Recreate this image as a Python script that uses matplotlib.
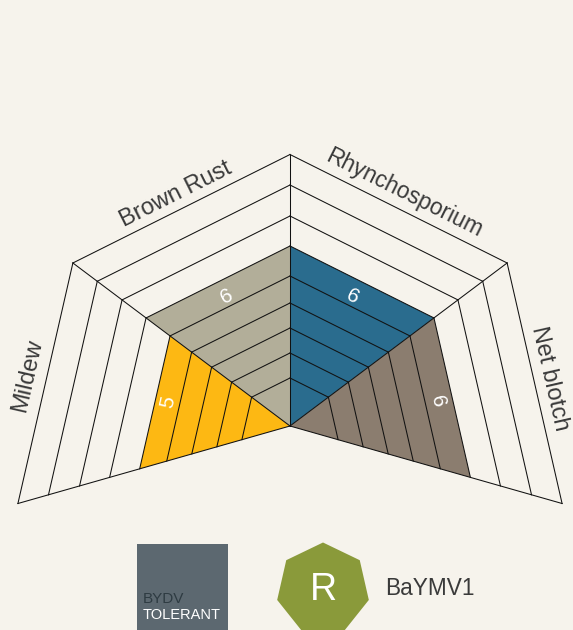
import numpy as np
import matplotlib
matplotlib.use("Agg")
import matplotlib.pyplot as plt
from matplotlib.patches import Polygon, Rectangle, RegularPolygon

categories = ["Mildew", "Brown Rust", "Rhynchosporium", "Net blotch"]
scores = [5, 6, 6, 6]
levels = [1, 2, 3, 4, 5, 6, 7, 8, 9]
fill_colors = ["#FDB813", "#B2AE99", "#2A6C8E", "#8B7D6F"]

tolerance_lines = ["BYDV", "TOLERANT"]
resistance_mark = "R"
resistance_name = "BaYMV1"

# the scale is not linear on the original, radius of each level in px
level_radius = [48, 73, 98, 123, 150, 180, 210, 241, 271.5]
spoke_angle = [195.9, 143.1, 90, 36.9, -15.9]
spoke_scale = [1.042, 1, 1, 1, 1.042]

# small hand nudges for the text, in px
name_nudge = [(-3, -4), (1, -1), (-1, -2), (0, -1)]
score_nudge = [(-1, -4), (2, 2), (-3, 2), (0, 1)]
name_size = [17, 17, 16.5, 17]

bg = "#F6F3EC"
cx, cy = 290, 426
plt.rcParams["font.family"] = ["Liberation Sans", "DejaVu Sans"]


def spoke_point(spoke, level):
    r = level_radius[level - 1] * spoke_scale[spoke]
    a = np.radians(spoke_angle[spoke])
    return cx + r * np.cos(a), cy - r * np.sin(a)


def edge_angle(p, q):
    ang = np.degrees(np.arctan2(-(q[1] - p[1]), q[0] - p[0]))
    if ang > 90:
        ang -= 180
    if ang < -90:
        ang += 180
    return ang


def edge_normal(p, q):
    # unit normal of the edge, pointing to the centre
    ex, ey = q[0] - p[0], q[1] - p[1]
    n = np.array([-ey, ex]) / np.hypot(ex, ey)
    if n[0] * (cx - (p[0] + q[0]) / 2) + n[1] * (cy - (p[1] + q[1]) / 2) < 0:
        n = -n
    return n


fig = plt.figure(figsize=(5.73, 6.30), dpi=100, facecolor=bg)
ax = fig.add_axes([0, 0, 1, 1])
ax.set_xlim(0, 573)
ax.set_ylim(630, 0)
ax.axis("off")

# filled sectors
for i, v in enumerate(scores):
    ax.add_patch(Polygon([(cx, cy), spoke_point(i, v), spoke_point(i + 1, v)],
                         closed=True, fc=fill_colors[i], ec="none", zorder=1))

# rings, one segment per sector
for i in range(len(categories)):
    for lev in levels:
        p, q = spoke_point(i, lev), spoke_point(i + 1, lev)
        ax.plot([p[0], q[0]], [p[1], q[1]], color="#111111", lw=0.75, zorder=2)

# spokes
for i in range(len(spoke_angle)):
    p = spoke_point(i, levels[-1])
    ax.plot([cx, p[0]], [cy, p[1]], color="#111111", lw=0.75, zorder=2)

# score numbers + category names follow the sector's outer edge
for i, name in enumerate(categories):
    p, q = spoke_point(i, scores[i]), spoke_point(i + 1, scores[i])
    n = edge_normal(p, q)
    ax.text((p[0] + q[0]) / 2 + n[0] * 14.5 + score_nudge[i][0],
            (p[1] + q[1]) / 2 + n[1] * 14.5 + score_nudge[i][1], str(scores[i]),
            color="white", fontsize=15, rotation=edge_angle(p, q), rotation_mode="anchor",
            ha="center", va="center", zorder=3)

    # name sits outside of the outermost ring
    p9, q9 = spoke_point(i, levels[-1]), spoke_point(i + 1, levels[-1])
    n9 = edge_normal(p9, q9)
    ax.text((p9[0] + q9[0]) / 2 - n9[0] * 15 + name_nudge[i][0],
            (p9[1] + q9[1]) / 2 - n9[1] * 15 + name_nudge[i][1], name,
            color="#3A3A3A", fontsize=name_size[i], rotation=edge_angle(p9, q9), rotation_mode="anchor",
            ha="center", va="center", zorder=3)

# bottom badges
ax.add_patch(Rectangle((137, 544), 91, 86, fc="#5C6870", ec="none"))
ax.text(143, 603, tolerance_lines[0], color="#2E3B42", fontsize=11, ha="left", va="baseline")
ax.text(143, 619, tolerance_lines[1], color="white", fontsize=10.5, ha="left", va="baseline")
ax.add_patch(RegularPolygon((323, 589.5), 7, radius=47, orientation=np.pi, fc="#8A9A3A", ec="none"))
ax.text(323, 600, resistance_mark, color="white", fontsize=27, ha="center", va="baseline")
ax.text(385, 595, resistance_name, color="#3A3A3A", fontsize=16.3, ha="left", va="baseline")

fig.savefig("out.png", dpi=100, facecolor=bg)
